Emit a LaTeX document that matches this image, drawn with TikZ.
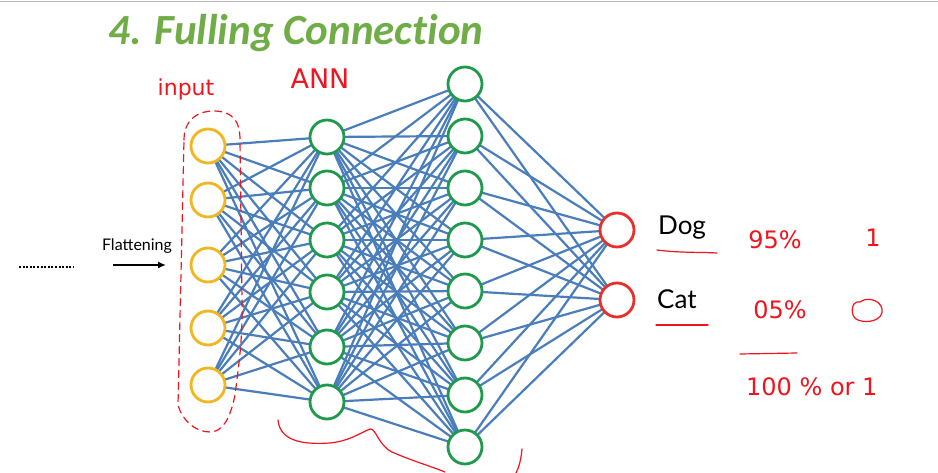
\documentclass[tikz,border=0pt]{standalone}
\usepackage{fontspec}
\usetikzlibrary{arrows.meta}
\setmainfont{Lato}
\newfontfamily\titlefont[Ligatures={NoCommon,NoRare}]{Carlito}
\newfontfamily\handfont{DejaVu Sans}
\definecolor{ttlgreen}{HTML}{70AD47}
\definecolor{inyellow}{HTML}{F2B61F}
\definecolor{hidgreen}{HTML}{1F9A4C}
\definecolor{outred}{HTML}{E8302A}
\definecolor{edgeblue}{HTML}{4A7EBB}
\definecolor{pen}{HTML}{F0141E}
\tikzset{
  neuron/.style={circle, minimum size=34pt, inner sep=0pt, line width=2.8pt, fill=white},
  inneuron/.style={neuron, draw=inyellow},
  hidneuron/.style={neuron, draw=hidgreen},
  outneuron/.style={neuron, draw=outred},
  edge/.style={draw=edgeblue, line width=2.2pt},
  penline/.style={draw=pen, line width=1.2pt, line cap=round, line join=round},
  handtxt/.style={text=pen, font=\handfont\fontsize{24}{26}\selectfont, inner sep=0pt},
  lbl/.style={font=\fontsize{26}{28}\selectfont, inner sep=0pt}
}
\begin{document}
\begin{tikzpicture}[x=1pt,y=-1pt]
\useasboundingbox (0,0) rectangle (938,473);
\fill[white] (0,0) rectangle (938,473);
\draw[gray!55, line width=1.2pt] (0,1.5) -- (938,1.5);
\node[text=ttlgreen, font=\titlefont\bfseries\itshape\fontsize{43}{45}\selectfont, inner sep=0pt] (title) at (296,33) {4. Fulling Connection};

% coordinates of neurons
\foreach \i/\y in {1/146,2/200,3/265,4/328,5/385} \coordinate (i\i) at (208,\y);
\foreach \i/\y in {1/137,2/188,3/240,4/292,5/347,6/402} \coordinate (h\i) at (327,\y);
\foreach \i/\y in {1/84,2/136,3/188,4/240,5/291,6/343,7/395,8/447} \coordinate (g\i) at (465,\y);
\foreach \i/\y in {1/230,2/300} \coordinate (o\i) at (617,\y);

% edges
\foreach \a in {1,...,5}{\foreach \b in {1,...,6}{\draw[edge] (i\a) -- (h\b);}}
\foreach \a in {1,...,6}{\foreach \b in {1,...,8}{\draw[edge] (h\a) -- (g\b);}}
\foreach \a in {1,...,8}{\foreach \b in {1,2}{\draw[edge] (g\a) -- (o\b);}}

% neurons
\foreach \i in {1,...,5} \node[inneuron] (I\i) at (i\i) {};
\foreach \i in {1,...,6} \node[hidneuron] (H\i) at (h\i) {};
\foreach \i in {1,...,8} \node[hidneuron] (G\i) at (g\i) {};
\node[outneuron] (O1) at (o1) {};
\node[outneuron] (O2) at (o2) {};

% flattening
\node[font=\fontsize{16}{18}\selectfont, inner sep=0pt] (flat) at (137,246) {Flattening};
\coordinate (fa) at (113,265);
\coordinate (fb) at (166,265);
\draw[line width=1.4pt, -{Latex[length=8pt,width=7pt]}] (fa) -- (fb);
\coordinate (da) at (19,267);
\coordinate (db) at (74,267);
\draw[line width=2.4pt, dash pattern=on 2pt off 1.6pt] (da) -- (db);

% outputs
\node[lbl, anchor=west] (dog) at (658,228) {Dog};
\node[lbl, anchor=west] (cat) at (657,299) {Cat};
\draw[penline] (657,250) .. controls (680,253) and (700,252) .. (717,253);
\draw[penline] (656,325) -- (708,325);

% handwritten annotations
\node[handtxt, font=\handfont\fontsize{22}{24}\selectfont] (inp) at (186,89) {input};
\node[handtxt, font=\handfont\fontsize{27}{29}\selectfont] (ann) at (320,79) {ANN};
\node[handtxt] (p95) at (775,240) {95\%};
\node[handtxt] (one) at (873,238) {1};
\node[handtxt] (p05) at (780,310) {05\%};
\draw[penline] (860,302) .. controls (850,300) and (850,318) .. (858,320) .. controls (868,324) and (884,320) .. (882,309) .. controls (880,299) and (866,297) .. (860,302);
\draw[penline] (740,354) -- (797,353);
\node[handtxt, anchor=west] (sum) at (746,387) {100 \% or 1};

% dashed loop round input layer
\draw[penline, dash pattern=on 7pt off 5pt]
  (184,140) .. controls (184,118) and (200,111) .. (213,111)
  .. controls (232,111) and (240,120) .. (240,140)
  -- (242,300)
  .. controls (243,340) and (238,370) .. (235,395)
  .. controls (230,420) and (222,432) .. (210,432)
  .. controls (195,432) and (182,420) .. (178,405)
  -- (182,230) -- (184,140);

% bracket under the first hidden layer
\draw[penline] (278,420) .. controls (280,440) and (300,445) .. (330,443)
  .. controls (350,441) and (362,432) .. (370,429)
  .. controls (376,428) and (378,445) .. (392,452)
  .. controls (410,460) and (430,466) .. (445,472);
\draw[penline] (522,449) .. controls (521,460) and (519,467) .. (516,473);
\end{tikzpicture}
\end{document}
